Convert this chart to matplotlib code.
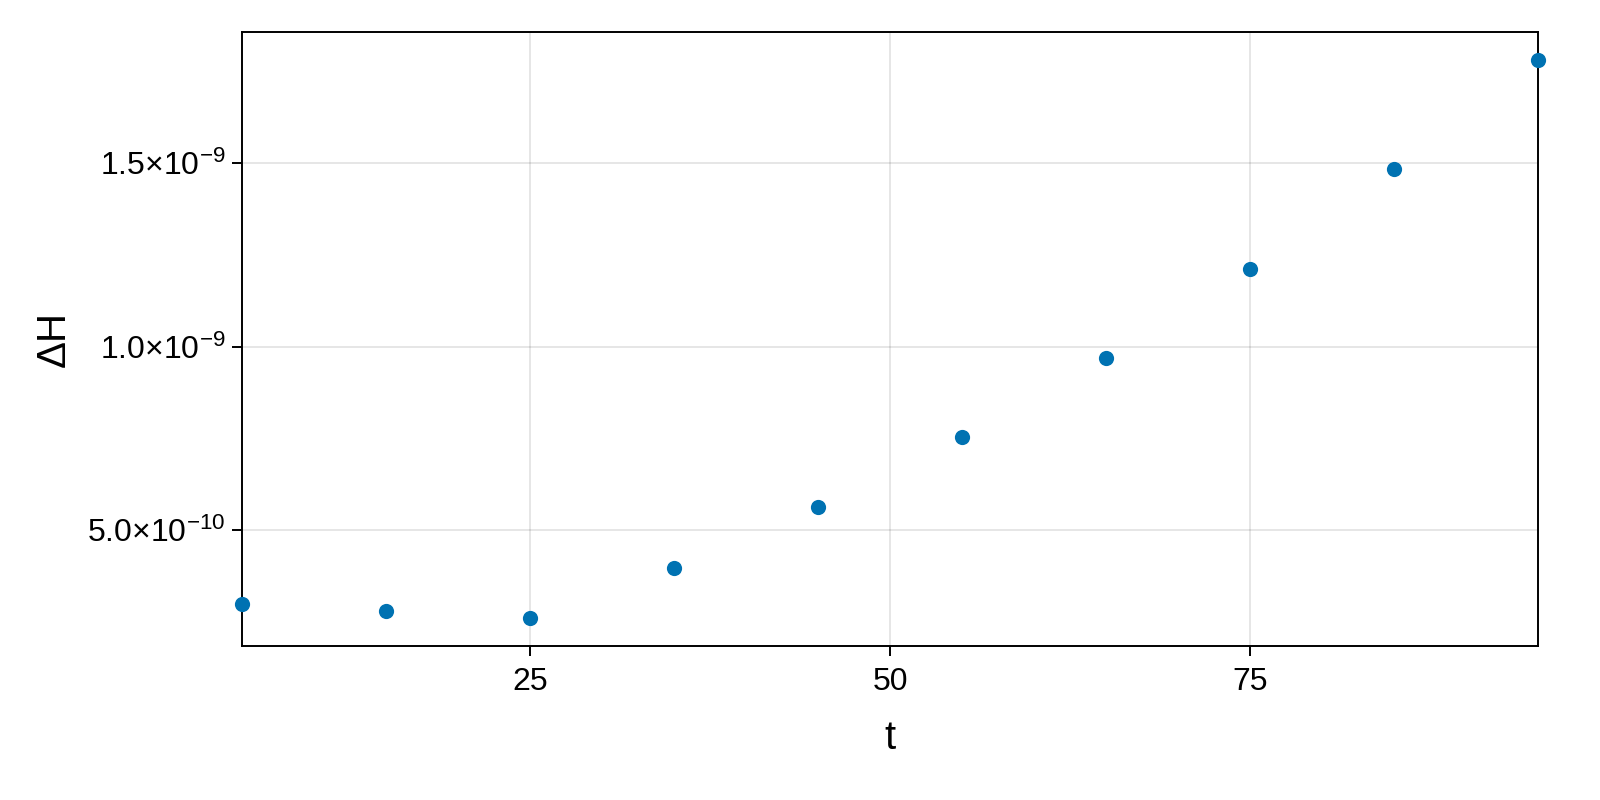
import numpy as np
import matplotlib
matplotlib.use("Agg")
import matplotlib.pyplot as plt
from matplotlib.ticker import FixedLocator, FuncFormatter

# energy drift over time
t = [5, 15, 25, 35, 45, 55, 65, 75, 85, 95]
dH = [2.99e-10, 2.80e-10, 2.61e-10, 3.97e-10, 5.63e-10,
      7.53e-10, 9.70e-10, 1.212e-9, 1.484e-9, 1.780e-9]
xticks = [25, 50, 75]
yticks = [5.0e-10, 1.0e-9, 1.5e-9]

plt.rcParams['font.family'] = ['Liberation Sans', 'DejaVu Sans']
plt.rcParams['mathtext.fontset'] = 'custom'
plt.rcParams['mathtext.rm'] = 'Liberation Sans'
plt.rcParams['mathtext.it'] = 'Liberation Sans:italic'
plt.rcParams['mathtext.bf'] = 'Liberation Sans:bold'


def sci_label(v, pos):
    exp = int(np.floor(np.log10(abs(v))))
    mant = v / 10 ** exp
    return r"$%.1f{\times}10^{%d}$" % (mant, exp)


fig = plt.figure(figsize=(8, 4), dpi=200)
ax = fig.add_axes([0.15125, 0.1925, 0.81, 0.7675])

ax.scatter(t, dH, s=30, color="#0072B2", zorder=3, clip_on=False, linewidths=0)

ax.set_xlim(5, 95)
span = max(dH) - min(dH)
ax.set_ylim(min(dH) - 0.05 * span, max(dH) + 0.05 * span)

ax.xaxis.set_major_locator(FixedLocator(xticks))
ax.yaxis.set_major_locator(FixedLocator(yticks))
ax.yaxis.set_major_formatter(FuncFormatter(sci_label))

ax.grid(True, color="black", alpha=0.13, linewidth=0.55)
ax.set_axisbelow(True)
ax.tick_params(direction="out", length=3.5, width=0.7, labelsize=11.5, pad=2.5)
ax.tick_params(axis="x", pad=4)
for sp in ax.spines.values():
    sp.set_linewidth(0.7)

ax.set_xlabel("t", fontsize=14.5, labelpad=8)
ax.set_ylabel("ΔH", fontsize=14.5, labelpad=5)

fig.savefig("out.png", dpi=200)
